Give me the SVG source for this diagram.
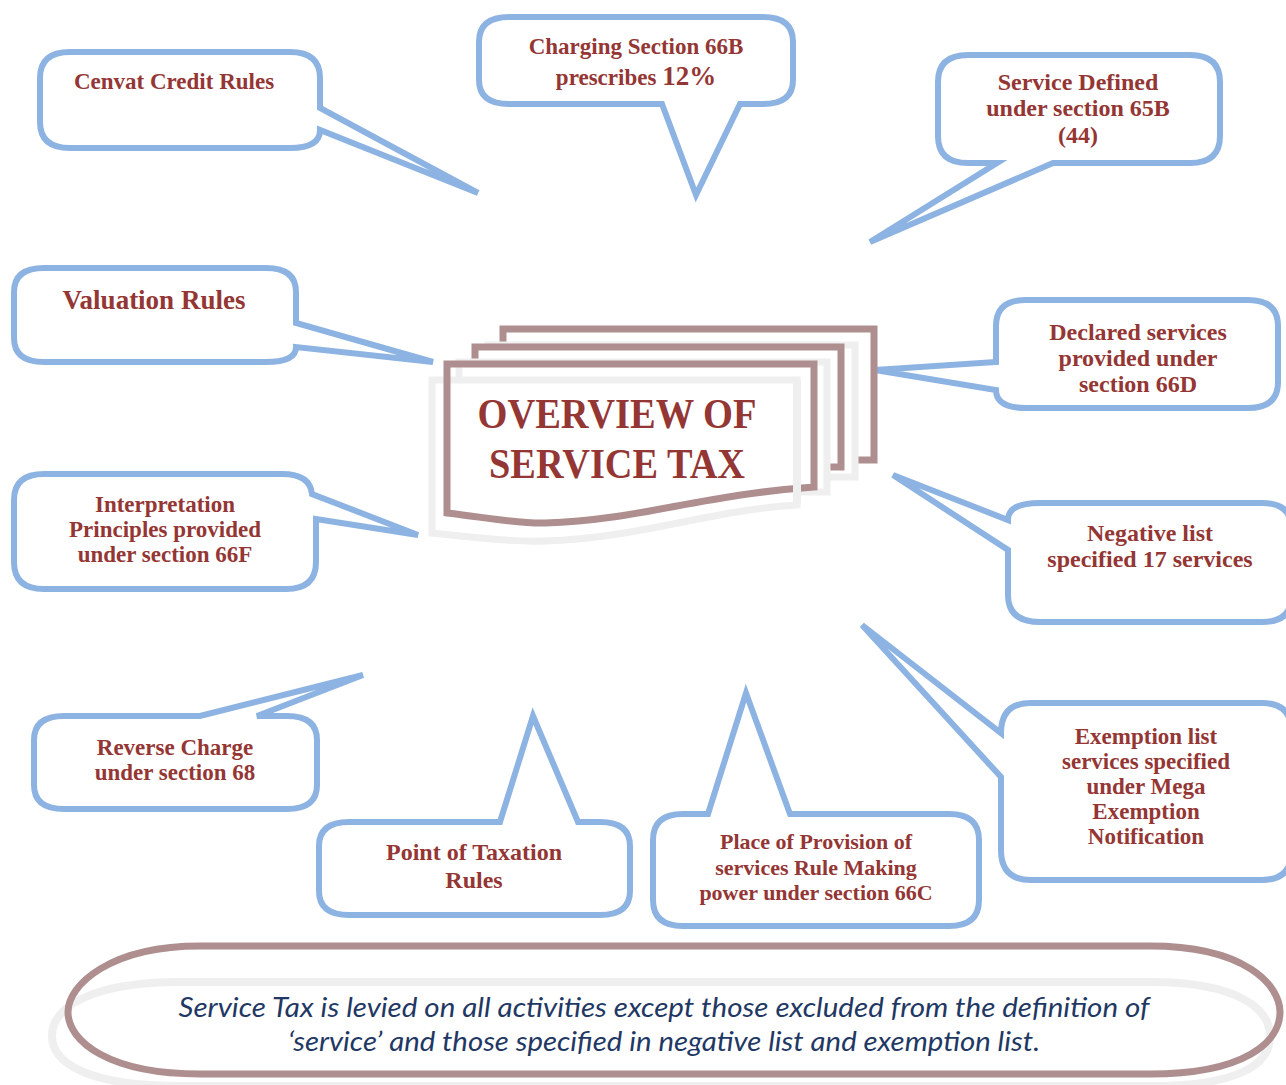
<svg xmlns="http://www.w3.org/2000/svg" width="1286" height="1085" viewBox="0 0 1286 1085">
<style>
.co{fill:#fff;stroke:#8db3e2;stroke-width:6;stroke-linejoin:miter;stroke-miterlimit:4}
.t{font-family:"Liberation Serif",serif;font-weight:bold;fill:#943634;text-anchor:middle}
.br{fill:#fff;stroke:#ae8e8e;stroke-width:7}
.gr{fill:#fff;stroke:#efefef;stroke-width:7}
.bt{font-family:Lato,"Liberation Sans",sans-serif;font-style:italic;fill:#1f3864;font-size:27px;text-anchor:middle}
</style>
<rect width="1286" height="1085" fill="#fff"/>
<g id="connectors"></g>
<g id="cenvat">
<path class="co" d="M70,52 H290 Q320,52 320,78 V108 L478,193 L320,130 Q320,148 290,148 H70 Q40,148 40,122 V78 Q40,52 70,52 Z"/>
<text class="t" x="174" y="89" font-size="23">Cenvat Credit Rules</text>
</g>
<g id="charging">
<path class="co" d="M509,17 H763 Q793,17 793,42 V80 Q793,104 763,104 H740 L696,195 L662,104 H509 Q479,104 479,80 V42 Q479,17 509,17 Z"/>
<text class="t" x="636" y="54" font-size="23">Charging Section 66B</text>
<text class="t" x="636" y="85" font-size="23">prescribes <tspan font-size="27">12%</tspan></text>
</g>
<g id="service-defined">
<path class="co" d="M968,55 H1190 Q1220,55 1220,82 V136 Q1220,163 1190,163 H1053 L870,242 L997,163 H968 Q938,163 938,136 V82 Q938,55 968,55 Z"/>
<text class="t" x="1078" y="90" font-size="24">Service Defined</text>
<text class="t" x="1078" y="116" font-size="24">under section 65B</text>
<text class="t" x="1078" y="143" font-size="24">(44)</text>
</g>
<g id="valuation">
<path class="co" d="M44,268 H266 Q296,268 296,292 V323 L433,362 L296,347 Q296,362 266,362 H44 Q14,362 14,338 V292 Q14,268 44,268 Z"/>
<text class="t" x="154" y="309" font-size="27">Valuation Rules</text>
</g>
<g id="interpretation">
<path class="co" d="M44,474 H282 Q310,474 312,494 L418,535 L316,519 V562 Q316,589 286,589 H44 Q14,589 14,562 V500 Q14,474 44,474 Z"/>
<text class="t" x="165" y="512" font-size="23">Interpretation</text>
<text class="t" x="165" y="537" font-size="23">Principles provided</text>
<text class="t" x="165" y="562" font-size="23">under section 66F</text>
</g>
<g id="declared">
<path class="co" d="M1026,300 H1248 Q1278,300 1278,326 V382 Q1278,408 1248,408 H1026 Q996,408 996,390 L875,370 L996,362 V326 Q996,300 1026,300 Z"/>
<text class="t" x="1138" y="340" font-size="24">Declared services</text>
<text class="t" x="1138" y="366" font-size="24">provided under</text>
<text class="t" x="1138" y="392" font-size="24">section 66D</text>
</g>
<g id="negative">
<path class="co" d="M1040,503 H1262 Q1292,503 1292,530 V595 Q1292,622 1262,622 H1040 Q1008,622 1008,595 V550 L893,475 L1008,520 Q1008,503 1040,503 Z"/>
<text class="t" x="1150" y="541" font-size="24">Negative list</text>
<text class="t" x="1150" y="567" font-size="24">specified 17 services</text>
</g>
<g id="exemption">
<path class="co" d="M1031,703 H1262 Q1292,703 1292,733 V850 Q1292,880 1262,880 H1031 Q1001,880 1001,850 V777 L862,625 L1001,733 Q1001,703 1031,703 Z"/>
<text class="t" x="1146" y="744" font-size="23">Exemption list</text>
<text class="t" x="1146" y="769" font-size="23">services specified</text>
<text class="t" x="1146" y="794" font-size="23">under Mega</text>
<text class="t" x="1146" y="819" font-size="23">Exemption</text>
<text class="t" x="1146" y="844" font-size="23">Notification</text>
</g>
<g id="reverse-charge">
<path class="co" d="M64,716 H200 L363,675 L257,716 H287 Q317,716 317,740 V785 Q317,809 287,809 H64 Q34,809 34,785 V740 Q34,716 64,716 Z"/>
<text class="t" x="175" y="755" font-size="23">Reverse Charge</text>
<text class="t" x="175" y="780" font-size="23">under section 68</text>
</g>
<g id="point-of-taxation">
<path class="co" d="M349,822 H500 L533,716 L578,822 H600 Q630,822 630,846 V891 Q630,915 600,915 H349 Q319,915 319,891 V846 Q319,822 349,822 Z"/>
<text class="t" x="474" y="860" font-size="24">Point of Taxation</text>
<text class="t" x="474" y="888" font-size="24">Rules</text>
</g>
<g id="place-of-provision">
<path class="co" d="M683,814 H708 L746,693 L790,814 H949 Q979,814 979,840 V900 Q979,926 949,926 H683 Q653,926 653,900 V840 Q653,814 683,814 Z"/>
<text class="t" x="816" y="849" font-size="22">Place of Provision of</text>
<text class="t" x="816" y="875" font-size="22">services Rule Making</text>
<text class="t" x="816" y="900" font-size="22">power under section 66C</text>
</g>
<g id="overview">
<rect class="br" x="503" y="329" width="371" height="131"/>
<rect class="gr" x="488" y="345" width="367" height="132"/>
<rect class="br" x="475" y="347" width="366" height="120"/>
<rect class="gr" x="459" y="362" width="368" height="130"/>
<path class="gr" d="M432,380 H797 V505 C710,510 640,538 545,541 C510,542 480,538 432,533 Z"/>
<path fill="none" stroke="#ae8e8e" stroke-width="7" d="M447,513 V364 H814 V487 C700,495 640,520 545,523 C520,524 490,518 447,513 Z"/>
<path fill="none" stroke="#efefef" stroke-width="8" d="M797,380 V505"/>
<text class="t" x="617" y="428" font-size="42" textLength="279" lengthAdjust="spacingAndGlyphs">OVERVIEW OF</text>
<text class="t" x="617" y="478" font-size="42" textLength="256" lengthAdjust="spacingAndGlyphs">SERVICE TAX</text>
</g>
<g id="summary">
<path fill="none" stroke="#efefef" stroke-width="8" d="M180,982 H1150 C1240,982 1270,1010 1270,1036 C1270,1064 1240,1086 1150,1086 H180 C90,1086 52,1064 52,1036 C52,1008 90,982 180,982 Z"/>
<path fill="none" stroke="#ae8e8e" stroke-width="7" d="M200,946 H1150 C1245,946 1280,985 1280,1012 C1280,1042 1245,1074 1150,1074 H200 C110,1074 68,1042 68,1012 C68,985 110,946 200,946 Z"/>
<text class="bt" x="664" y="1017" textLength="971" lengthAdjust="spacingAndGlyphs">Service Tax is levied on all activities except those excluded from the definition of</text>
<text class="bt" x="664" y="1051" textLength="752" lengthAdjust="spacingAndGlyphs">‘service’ and those specified in negative list and exemption list.</text>
</g>
</svg>
